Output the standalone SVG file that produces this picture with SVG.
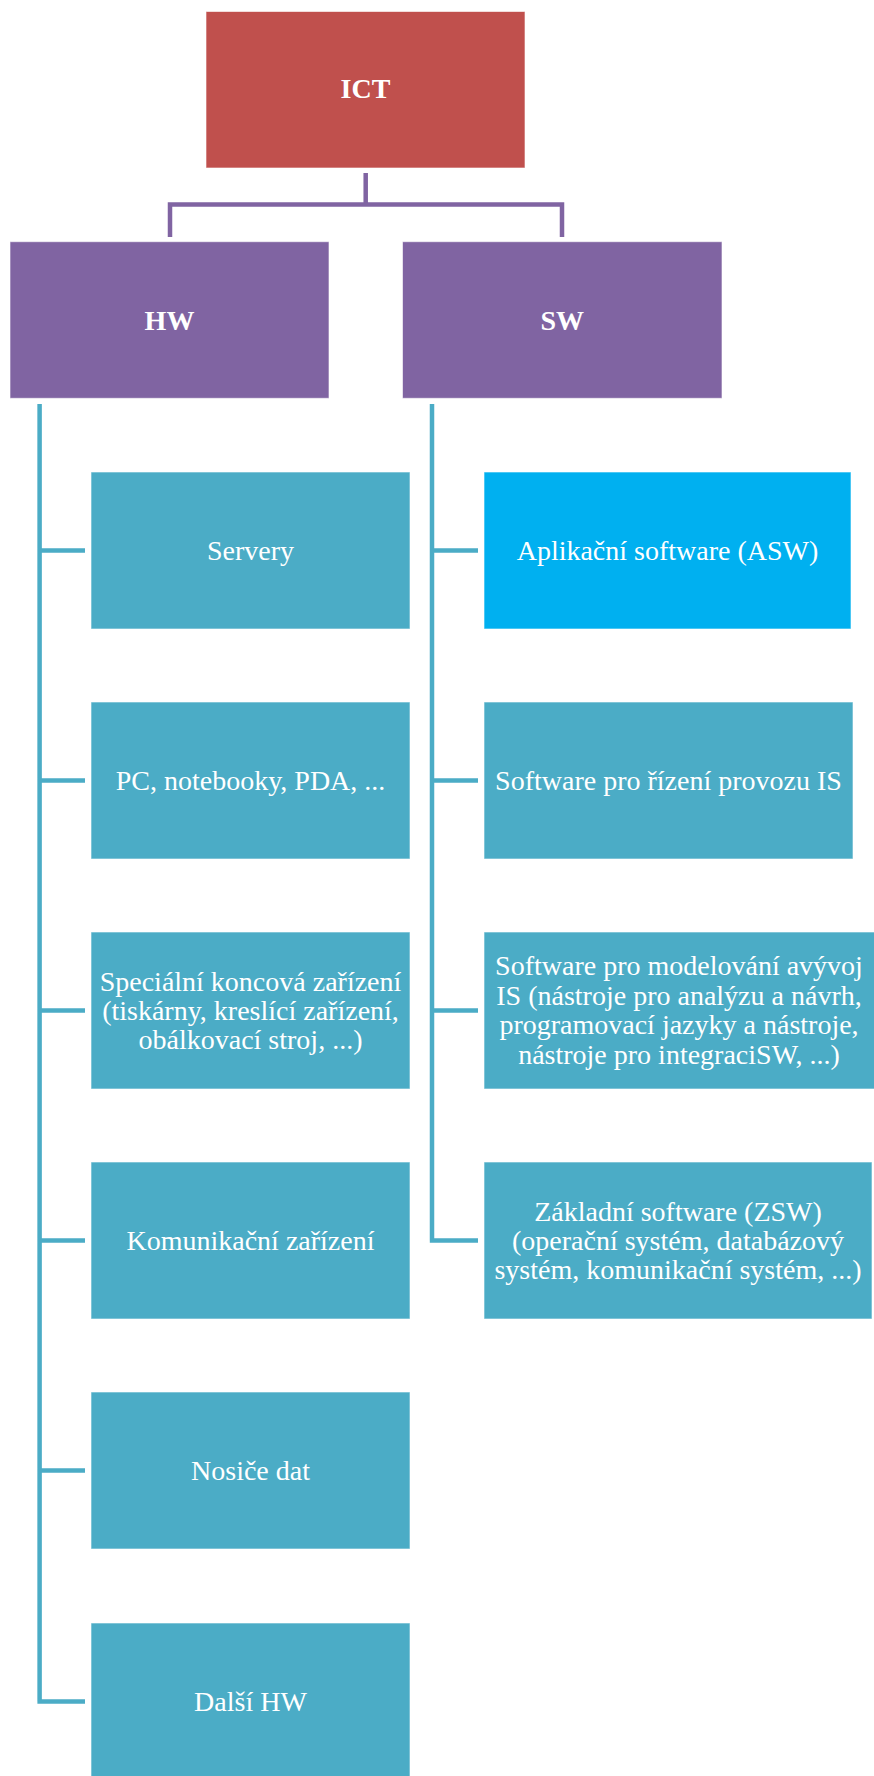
<svg xmlns="http://www.w3.org/2000/svg" width="874" height="1776" viewBox="0 0 874 1776">
  <style>
    .lbl { font-family: "Liberation Serif", "Times New Roman", serif; font-size: 28px; fill: #ffffff; text-anchor: middle; }
    .head { font-weight: bold; }
    .box { stroke: #ffffff; stroke-width: 1; stroke-opacity: 0.6; }
    .root { fill: #C0504D; }
    .cat { fill: #8064A2; }
    .item { fill: #4BACC6; }
    .hl { fill: #00B0F0; }
    .c-purple { fill: none; stroke: #8064A2; stroke-width: 4.5; }
    .c-teal { fill: none; stroke: #4BACC6; stroke-width: 4.5; }
  </style>

  <rect width="874" height="1776" fill="#ffffff"/>

  <!-- connectors -->
  <g id="connectors">
    <path class="c-purple" d="M365.7,173 V204.5 M170,237 V204.5 H562 V237"/>
    <path class="c-teal" d="M39.6,404 V1701.5 M39.6,550.5 H85 M39.6,780.5 H85 M39.6,1010.5 H85 M39.6,1240.5 H85 M39.6,1470.5 H85 M37.4,1701.5 H85"/>
    <path class="c-teal" d="M432,404 V1240.5 M432,550.5 H478 M432,780.5 H478 M432,1010.5 H478 M429.8,1240.5 H478"/>
  </g>

  <!-- top level -->
  <g id="node-ict">
    <rect class="box root" x="206" y="11.5" width="319" height="156.5"/>
    <text class="lbl head" x="365.5" y="98">ICT</text>
  </g>

  <!-- categories -->
  <g id="node-hw">
    <rect class="box cat" x="10" y="241.7" width="319" height="156.6"/>
    <text class="lbl head" x="169.5" y="329.5">HW</text>
  </g>
  <g id="node-sw">
    <rect class="box cat" x="402.5" y="241.7" width="319.5" height="156.6"/>
    <text class="lbl head" x="562.2" y="329.5">SW</text>
  </g>

  <!-- hardware items -->
  <g id="node-servery">
    <rect class="box item" x="91" y="472" width="319" height="157"/>
    <text class="lbl" x="250.5" y="560">Servery</text>
  </g>
  <g id="node-pc">
    <rect class="box item" x="91" y="702" width="319" height="157"/>
    <text class="lbl" x="250.5" y="790">PC, notebooky, PDA, ...</text>
  </g>
  <g id="node-specialni">
    <rect class="box item" x="91" y="932" width="319" height="157"/>
    <text class="lbl" x="250.5" y="990.7">Speciální koncová zařízení</text>
    <text class="lbl" x="250.5" y="1020">(tiskárny, kreslící zařízení,</text>
    <text class="lbl" x="250.5" y="1049.3">obálkovací stroj, ...)</text>
  </g>
  <g id="node-komunikacni">
    <rect class="box item" x="91" y="1162" width="319" height="157"/>
    <text class="lbl" x="250.5" y="1250">Komunikační zařízení</text>
  </g>
  <g id="node-nosice">
    <rect class="box item" x="91" y="1392" width="319" height="157"/>
    <text class="lbl" x="250.5" y="1480">Nosiče dat</text>
  </g>
  <g id="node-dalsi">
    <rect class="box item" x="91" y="1623" width="319" height="160"/>
    <text class="lbl" x="250.5" y="1711">Další HW</text>
  </g>

  <!-- software items -->
  <g id="node-asw">
    <rect class="box hl" x="484" y="472" width="367" height="157"/>
    <text class="lbl" x="667.5" y="560">Aplikační software (ASW)</text>
  </g>
  <g id="node-rizeni">
    <rect class="box item" x="484" y="702" width="369" height="157"/>
    <text class="lbl" x="668.5" y="790">Software pro řízení provozu IS</text>
  </g>
  <g id="node-modelovani">
    <rect class="box item" x="484" y="932" width="395" height="157"/>
    <text class="lbl" x="679" y="975">Software pro modelování avývoj</text>
    <text class="lbl" x="679" y="1004.5">IS (nástroje pro analýzu a návrh,</text>
    <text class="lbl" x="679" y="1034">programovací jazyky a nástroje,</text>
    <text class="lbl" x="679" y="1063.5">nástroje pro integraciSW, ...)</text>
  </g>
  <g id="node-zakladni">
    <rect class="box item" x="484" y="1162" width="388" height="157"/>
    <text class="lbl" x="678" y="1220.7">Základní software (ZSW)</text>
    <text class="lbl" x="678" y="1250">(operační systém, databázový</text>
    <text class="lbl" x="678" y="1279.3">systém, komunikační systém, ...)</text>
  </g>
</svg>
